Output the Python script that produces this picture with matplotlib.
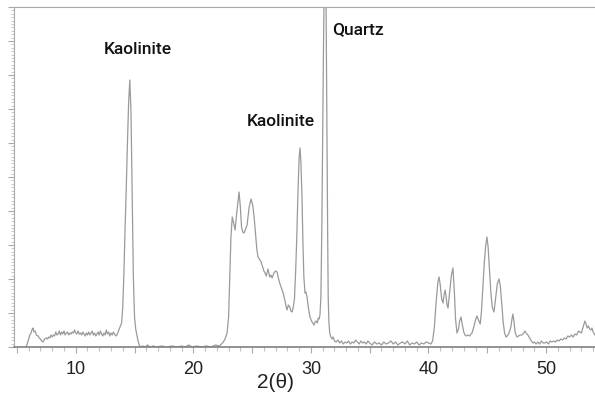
import matplotlib
matplotlib.use('Agg')
import matplotlib.pyplot as plt
from matplotlib.ticker import MultipleLocator, FuncFormatter

# XRD pattern (intensity in arbitrary units, 0..340 visible)
two_theta = [
	5.77, 5.9, 6.0, 6.1, 6.2, 6.3, 6.37, 6.45, 6.55, 6.65, 6.8, 6.9, 7.0, 7.1, 7.22, 7.35,
	7.5, 7.6, 7.7, 7.8, 7.9, 8.0, 8.1, 8.2, 8.3, 8.4, 8.5, 8.6, 8.7, 8.8, 8.9, 9.0,
	9.1, 9.2, 9.3, 9.4, 9.5, 9.6, 9.7, 9.8, 9.9, 10.0, 10.1, 10.2, 10.3, 10.4, 10.5, 10.6,
	10.7, 10.8, 10.9, 11.0, 11.1, 11.2, 11.3, 11.4, 11.5, 11.6, 11.7, 11.8, 11.9, 12.0,
	12.1, 12.2, 12.3, 12.4, 12.5, 12.6, 12.7, 12.8, 12.9, 13.0, 13.1, 13.2, 13.3, 13.4,
	13.5, 13.6, 13.7, 13.8, 13.9, 14.0, 14.1, 14.2, 14.3, 14.4, 14.5, 14.6, 14.7, 14.8,
	14.9, 15.0, 15.1, 15.2, 15.3, 15.4, 15.5, 15.7, 15.9, 16.1, 16.3, 16.6, 16.9, 17.3,
	17.7, 18.2, 18.6, 19.0, 19.3, 19.6, 19.9, 20.3, 20.7, 21.1, 21.5, 21.9, 22.2, 22.4,
	22.55, 22.7, 22.87, 23.0, 23.1, 23.2, 23.31, 23.43, 23.55, 23.7, 23.89, 24.0, 24.1,
	24.2, 24.31, 24.45, 24.57, 24.75, 24.91, 25.05, 25.17, 25.3, 25.4, 25.5, 25.62, 25.76,
	25.9, 26.0, 26.1, 26.2, 26.35, 26.5, 26.6, 26.7, 26.85, 27.0, 27.12, 27.25, 27.4,
	27.52, 27.64, 27.72, 27.8, 27.9, 27.97, 28.08, 28.2, 28.3, 28.4, 28.5, 28.6, 28.7,
	28.8, 28.9, 29.0, 29.07, 29.15, 29.24, 29.32, 29.4, 29.5, 29.58, 29.67, 29.8, 29.92,
	30.05, 30.15, 30.26, 30.35, 30.45, 30.55, 30.62, 30.7, 30.77, 30.85, 30.93, 31.0,
	31.07, 31.13, 31.2, 31.28, 31.36, 31.42, 31.47, 31.53, 31.6, 31.7, 31.8, 31.9, 32.0,
	32.15, 32.3, 32.45, 32.6, 32.75, 32.9, 33.05, 33.2, 33.35, 33.5, 33.65, 33.8, 33.95,
	34.1, 34.25, 34.4, 34.55, 34.7, 34.85, 35.0, 35.2, 35.4, 35.6, 35.8, 36.0, 36.2, 36.4,
	36.6, 36.8, 37.0, 37.2, 37.4, 37.6, 37.8, 38.0, 38.2, 38.4, 38.6, 38.8, 39.0, 39.2,
	39.4, 39.6, 39.8, 40.0, 40.2, 40.35, 40.5, 40.65, 40.8, 40.9, 41.0, 41.12, 41.24,
	41.32, 41.41, 41.5, 41.58, 41.66, 41.8, 41.95, 42.08, 42.2, 42.3, 42.42, 42.55, 42.65,
	42.76, 42.88, 43.0, 43.1, 43.19, 43.35, 43.5, 43.6, 43.7, 43.85, 44.0, 44.12, 44.25,
	44.4, 44.5, 44.6, 44.75, 44.87, 44.97, 45.07, 45.17, 45.3, 45.42, 45.57, 45.7, 45.85,
	45.99, 46.1, 46.22, 46.35, 46.47, 46.59, 46.7, 46.85, 47.0, 47.1, 47.18, 47.27, 47.38,
	47.52, 47.65, 47.8, 47.95, 48.1, 48.2, 48.3, 48.45, 48.6, 48.75, 48.88, 49.0, 49.15,
	49.3, 49.45, 49.6, 49.75, 49.9, 50.05, 50.2, 50.35, 50.5, 50.65, 50.8, 50.95, 51.1,
	51.25, 51.4, 51.55, 51.7, 51.85, 52.0, 52.15, 52.3, 52.45, 52.6, 52.75, 52.88, 53.0,
	53.1, 53.2, 53.3, 53.4, 53.5, 53.6, 53.7, 53.8, 53.9, 54.0, 54.16,
]
counts = [
	0, 4, 8, 12, 14, 18, 19, 15, 16, 12, 11, 9, 8, 6, 5, 8,
	9, 8, 10, 9, 12, 10, 12, 11, 15, 12, 13, 16, 12, 15, 13, 16,
	12, 14, 15, 12, 14, 13, 15, 14, 17, 14, 13, 16, 13, 14, 12, 15,
	13, 11, 14, 12, 15, 12, 14, 16, 12, 14, 11, 13, 15, 12,
	16, 13, 11, 14, 12, 17, 13, 15, 11, 14, 12, 15, 13, 11,
	12, 15, 18, 21, 24, 40, 75, 120, 160, 205, 245, 267, 235, 150,
	70, 30, 18, 12, 6, 2, 0, 1, 0, 2, 0, 1, 0, 1,
	0, 1, 0, 1, 0, 2, 0, 1, 0, 1, 0, 2, 1, 3,
	5, 8, 14, 30, 70, 110, 130, 124, 117, 135, 155, 140, 120,
	115, 114, 118, 122, 140, 148, 142, 130, 112, 98, 90, 88, 85,
	80, 76, 74, 71, 78, 70, 72, 69, 74, 76, 75, 68, 62,
	58, 54, 50, 46, 40, 37, 42, 40, 36, 35, 40, 48, 75,
	110, 155, 190, 199, 185, 150, 105, 70, 54, 55, 50, 38, 30,
	26, 24, 22, 25, 26, 24, 29, 28, 32, 50, 120, 214,
	300, 360, 480, 360, 220, 120, 50, 25, 14, 10, 8, 10, 6,
	5, 7, 4, 6, 3, 5, 4, 6, 3, 5, 4, 7, 5,
	3, 6, 4, 5, 3, 6, 4, 2, 5, 3, 4, 2, 5, 3,
	4, 6, 3, 5, 2, 4, 5, 3, 6, 2, 4, 3, 5, 2,
	4, 3, 5, 4, 3, 6, 20, 45, 65, 70, 62, 48, 44,
	52, 57, 50, 42, 39, 55, 72, 79, 55, 28, 14, 18, 26,
	30, 22, 15, 12, 11, 12, 11, 13, 14, 20, 27, 31, 27,
	23, 35, 55, 85, 102, 110, 100, 80, 55, 40, 35, 48, 63,
	68, 62, 45, 25, 14, 10, 11, 14, 20, 28, 33, 25, 14,
	10, 11, 12, 12, 14, 16, 14, 12, 9, 6, 4, 5, 3,
	5, 3, 6, 4, 4, 5, 3, 6, 5, 6, 5, 7, 6,
	8, 7, 9, 8, 11, 10, 12, 10, 13, 12, 16, 15, 14,
	18, 22, 26, 23, 19, 21, 18, 17, 19, 15, 12,
]

peak_labels = ['Kaolinite', 'Kaolinite', 'Quartz']
label_x = [15.3, 27.45, 31.8]
label_y = [298, 225, 317]
label_ha = ['center', 'center', 'left']

fig = plt.figure(figsize=(5.95, 4.05), dpi=100)
ax = fig.add_axes([14/595, 58/405, 581/595, 340/405])

ax.plot(two_theta, counts, color='#9a9a9a', lw=0.9)

ax.set_xlim(4.75, 54.16)
ax.set_ylim(0, 340)

for txt, x, y, ha in zip(peak_labels, label_x, label_y, label_ha):
	ax.text(x, y, txt, ha=ha, va='center', fontsize=12.5, fontweight='medium',
		family=['Roboto', 'DejaVu Sans'], color='#111111')

# axes styling: light grey frame, no right spine
ax.spines['right'].set_visible(False)
ax.spines['top'].set_color('#a8a8a8')
ax.spines['left'].set_color('#a8a8a8')
ax.spines['bottom'].set_color('#808080')
ax.spines['bottom'].set_linewidth(1.2)

ax.xaxis.set_major_locator(MultipleLocator(5))
ax.xaxis.set_minor_locator(MultipleLocator(1))
ax.xaxis.set_major_formatter(FuncFormatter(lambda v, p: '%d' % v if v % 10 == 0 else ''))
ax.tick_params(axis='x', which='major', length=4, width=0.8, color='#aaaaaa',
	pad=6, labelsize=13, labelcolor='#222222')
ax.tick_params(axis='x', which='minor', length=3, width=0.8, color='#c0c0c0')
for lab in ax.get_xticklabels():
	lab.set_family('Liberation Sans')

ax.yaxis.set_major_locator(MultipleLocator(34))
ax.yaxis.set_minor_locator(MultipleLocator(3.4))
ax.tick_params(axis='y', which='major', length=4, width=0.8, color='#aaaaaa', labelleft=False)
ax.tick_params(axis='y', which='minor', length=2, width=0.6, color='#c0c0c0')

ax.set_xlabel('2(θ)', fontsize=15, family='Liberation Sans', color='#222222')
ax.xaxis.set_label_coords(261/581, -26/340)

fig.savefig('out.png', dpi=100)
